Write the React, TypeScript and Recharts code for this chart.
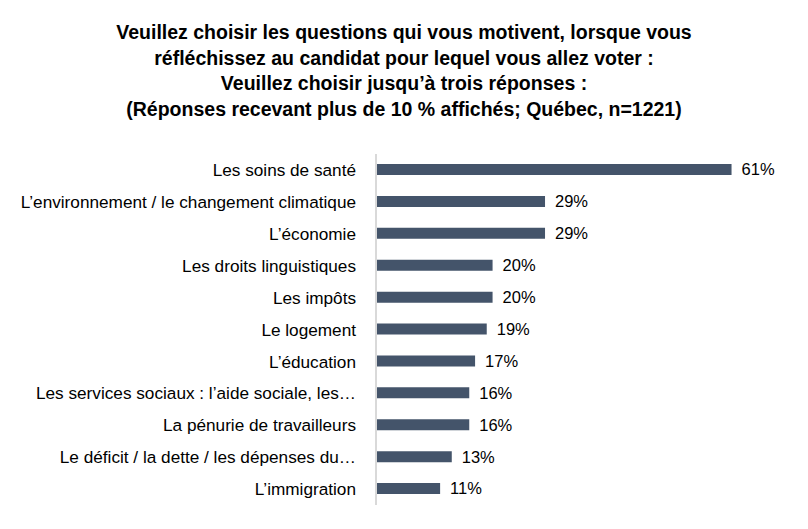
import React from 'react';
import { BarChart, Bar, XAxis, YAxis, LabelList } from 'recharts';

const categories = [
  'Les soins de santé',
  'L’environnement / le changement climatique',
  'L’économie',
  'Les droits linguistiques',
  'Les impôts',
  'Le logement',
  'L’éducation',
  'Les services sociaux : l’aide sociale, les…',
  'La pénurie de travailleurs',
  'Le déficit / la dette / les dépenses du…',
  'L’immigration',
];
const values = [61, 29, 29, 20, 20, 19, 17, 16, 16, 13, 11];

const titleLines = [
  'Veuillez choisir les questions qui vous motivent, lorsque vous',
  'réfléchissez au candidat pour lequel vous allez voter :',
  'Veuillez choisir jusqu’à trois réponses :',
  '(Réponses recevant plus de 10 % affichés; Québec, n=1221)',
];

const data = categories.map((name, i) => ({ name, value: values[i] }));

const FONT = '"Liberation Sans", Arial, sans-serif';

const App = () => {
  return (
    <div style={{ position: 'fixed', left: 0, top: 0, width: 808, height: 529, background: '#fff', fontFamily: FONT }}>
      <div style={{ position: 'absolute', top: 20, left: 0, width: 808, textAlign: 'center', fontWeight: 'bold', fontSize: 19.5, lineHeight: '25.5px', color: '#000' }}>
        {titleLines.map((t, i) => (
          <div key={i}>{t}</div>
        ))}
      </div>
      <div style={{ position: 'absolute', left: 0, top: 0 }}>
        <BarChart
          width={808}
          height={529}
          data={data}
          layout="vertical"
          margin={{ top: 154, right: 24, bottom: 24, left: 0 }}
          barSize={11}
        >
          <XAxis type="number" domain={[0, 70]} hide />
          <YAxis
            type="category"
            dataKey="name"
            width={376}
            axisLine={{ stroke: '#d9d9d9', strokeWidth: 2 }}
            tickLine={false}
            tickMargin={14}
            interval={0}
            tick={{ fill: '#000', fontSize: 17.2, fontFamily: FONT }}
          />
          <Bar dataKey="value" fill="#44546a" isAnimationActive={false}>
            <LabelList
              dataKey="value"
              position="right"
              offset={10}
              formatter={(v: any) => `${v}%`}
              style={{ fill: '#000', fontSize: 16.5, fontFamily: FONT }}
            />
          </Bar>
        </BarChart>
      </div>
    </div>
  );
};

export default App;
